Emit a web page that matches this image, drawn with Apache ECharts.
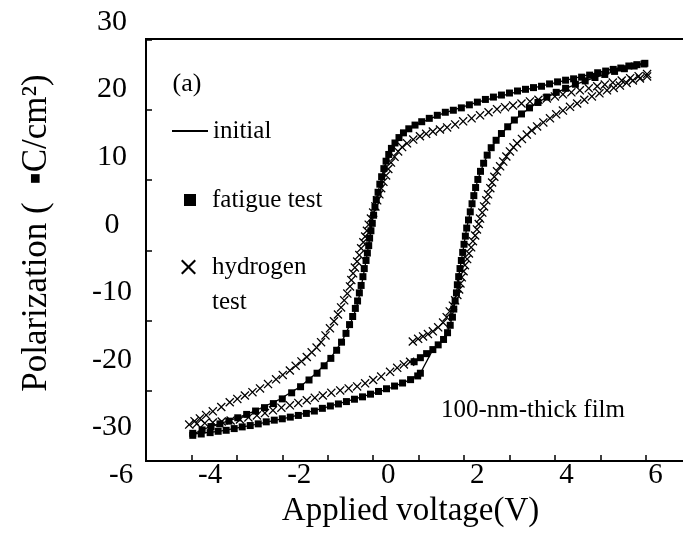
<!DOCTYPE html>
<html><head><meta charset="utf-8">
<script src="https://cdn.jsdelivr.net/npm/echarts@6/dist/echarts.min.js"></script>
<style>html,body{margin:0;padding:0;background:#fff}#c{width:683px;height:533px}</style>
</head><body><div id="c"></div>
<script>
// ---- tick labels ----
const xTickLabels = [-6, -4, -2, 0, 2, 4, 6];
const yTickLabels = [-30, -20, -10, 0, 10, 20, 30];

// ---- fatigue test (squares): [voltage V, polarization uC/cm2] ----
const fatigueUpper = [
  [5.76,23.9],[5.58,23.7],[5.40,23.5],[5.22,23.2],[5.05,23.0],[4.88,22.75],[4.70,22.5],[4.52,22.15],
  [4.34,21.85],[4.16,21.6],[3.98,21.4],[3.80,21.15],[3.62,20.85],[3.44,20.5],[3.26,20.3],[3.08,20.05],
  [2.90,19.8],[2.72,19.5],[2.54,19.2],[2.36,18.9],[2.18,18.55],[2.00,18.15],[1.82,17.75],[1.64,17.3],
  [1.46,16.95],[1.28,16.65],[1.10,16.2],[0.92,15.75],[0.75,15.25],[0.60,14.75],[0.46,14.2],[0.34,13.6],
  [0.24,12.9],[0.15,12.1],[0.07,11.3],[0.01,10.4],[-0.05,9.4],[-0.10,8.3],[-0.15,7.1],[-0.19,6.0],
  [-0.23,4.8],[-0.27,3.7],[-0.30,2.6],[-0.33,1.4],[-0.36,0.2],[-0.39,-0.9],[-0.42,-2.0],[-0.44,-3.1],
  [-0.47,-4.2],[-0.50,-5.3],[-0.54,-6.5],[-0.57,-7.7],[-0.61,-9.0],[-0.65,-10.1],[-0.69,-11.3],[-0.74,-12.4],
  [-0.80,-13.6],[-0.87,-14.8],[-0.95,-16.1],[-1.05,-17.4],[-1.16,-18.6],[-1.29,-19.8],[-1.44,-20.9],[-1.60,-22.0],
  [-1.78,-23.0],[-1.97,-24.0],[-2.17,-24.9],[-2.38,-25.8],[-2.58,-26.5],[-2.78,-27.1],[-2.98,-27.6],[-3.18,-28.1],
  [-3.38,-28.6],[-3.58,-29.1],[-3.78,-29.5],[-3.98,-29.9],[-4.18,-30.4],[-4.39,-30.9]
];
const fatigueLower = [
  [-4.39,-31.2],[-4.20,-31.0],[-4.00,-30.8],[-3.82,-30.6],[-3.64,-30.45],[-3.46,-30.2],[-3.28,-29.95],[-3.10,-29.75],
  [-2.92,-29.5],[-2.74,-29.2],[-2.56,-28.95],[-2.38,-28.75],[-2.20,-28.5],[-2.02,-28.25],[-1.84,-27.95],[-1.66,-27.6],
  [-1.48,-27.2],[-1.30,-26.85],[-1.12,-26.55],[-0.94,-26.2],[-0.76,-25.85],[-0.58,-25.5],[-0.40,-25.1],[-0.22,-24.7],
  [-0.04,-24.3],[0.14,-23.9],[0.32,-23.45],[0.50,-22.95],[0.66,-22.4],[0.72,-22.0]
];
const fatigueRight = [
  [0.58,-20.3],[0.72,-19.7],[0.86,-19.1],[1.00,-18.5],[1.12,-17.8],[1.24,-17.0],[1.33,-16.0],[1.39,-14.9],
  [1.44,-13.7],[1.47,-12.5],[1.50,-11.3],[1.53,-10.1],[1.55,-8.9],[1.58,-7.7],[1.61,-6.5],[1.64,-5.3],
  [1.67,-4.1],[1.70,-2.9],[1.73,-1.7],[1.76,-0.5],[1.80,0.7],[1.84,1.9],[1.88,3.1],[1.92,4.3],
  [1.96,5.5],[2.01,6.7],[2.07,7.9],[2.14,9.1],[2.22,10.3],[2.31,11.4],[2.42,12.5],[2.54,13.5],
  [2.68,14.5],[2.83,15.5],[2.99,16.4],[3.17,17.3],[3.36,18.1],[3.56,18.9],[3.77,19.6],[3.98,20.2],
  [4.20,20.8],[4.42,21.3],[4.64,21.8],[4.86,22.25],[5.08,22.7],[5.30,23.1],[5.52,23.5],[5.74,23.8]
];

// ---- hydrogen test (crosses) ----
const hydrogenUpper = [
  [5.81,22.3],[5.62,22.0],[5.43,21.7],[5.24,21.35],[5.04,21.05],[4.86,20.75],[4.69,20.5],[4.50,20.2],
  [4.30,19.9],[4.11,19.6],[3.92,19.3],[3.74,19.0],[3.56,18.7],[3.37,18.5],[3.18,18.25],[2.99,17.95],
  [2.80,17.65],[2.62,17.4],[2.44,17.1],[2.25,16.65],[2.06,16.2],[1.87,15.75],[1.68,15.3],[1.50,14.85],
  [1.32,14.4],[1.16,14.1],[1.00,13.8],[0.85,13.45],[0.71,13.1],[0.56,12.6],[0.42,12.05],[0.31,11.5],
  [0.22,10.85],[0.14,10.05],[0.06,9.2],[0.00,8.25],[-0.05,7.3],[-0.11,6.35],[-0.16,5.4],[-0.20,4.5],
  [-0.25,3.6],[-0.29,2.7],[-0.34,1.8],[-0.39,0.9],[-0.44,0.0],[-0.48,-0.9],[-0.52,-1.75],[-0.56,-2.6],
  [-0.61,-3.5],[-0.65,-4.5],[-0.70,-5.45],[-0.75,-6.35],[-0.79,-7.2],[-0.83,-8.2],[-0.86,-9.15],[-0.92,-10.2],
  [-0.99,-11.2],[-1.06,-12.25],[-1.13,-13.3],[-1.22,-14.3],[-1.31,-15.35],[-1.41,-16.4],[-1.51,-17.4],[-1.61,-18.2],
  [-1.72,-18.9],[-1.83,-19.6],[-1.95,-20.25],[-2.08,-20.9],[-2.21,-21.6],[-2.37,-22.25],[-2.52,-22.9],[-2.70,-23.6],
  [-2.88,-24.25],[-3.05,-24.8],[-3.22,-25.3],[-3.39,-25.8],[-3.56,-26.3],[-3.75,-27.0],[-3.94,-27.65],[-4.09,-28.2],
  [-4.23,-28.7],[-4.35,-29.1],[-4.47,-29.6]
];
const hydrogenLower = [
  [-4.30,-29.5],[-4.12,-29.4],[-3.94,-29.3],[-3.74,-29.15],[-3.54,-29.0],[-3.33,-28.85],[-3.14,-28.55],[-2.95,-28.25],
  [-2.77,-27.9],[-2.59,-27.5],[-2.40,-27.1],[-2.21,-26.75],[-2.02,-26.4],[-1.83,-26.0],[-1.65,-25.65],[-1.47,-25.3],
  [-1.28,-24.9],[-1.08,-24.55],[-0.89,-24.25],[-0.70,-23.95],[-0.52,-23.5],[-0.34,-23.0],[-0.16,-22.5],[0.04,-21.8],
  [0.20,-21.2],[0.35,-20.7],[0.49,-20.3]
];
const hydrogenRight = [
  [0.55,-17.3],[0.67,-16.9],[0.78,-16.55],[0.89,-16.2],[1.00,-15.8],[1.12,-15.2],[1.23,-14.5],[1.31,-13.7],
  [1.38,-12.85],[1.45,-12.0],[1.50,-11.2],[1.55,-10.4],[1.59,-9.6],[1.62,-8.7],[1.65,-7.8],[1.69,-6.9],
  [1.72,-6.0],[1.77,-5.1],[1.81,-4.25],[1.86,-3.35],[1.90,-2.45],[1.95,-1.6],[1.99,-0.7],[2.03,0.1],
  [2.06,0.9],[2.11,1.8],[2.15,2.7],[2.20,3.6],[2.24,4.5],[2.29,5.4],[2.33,6.25],[2.38,7.1],
  [2.44,7.9],[2.51,8.65],[2.58,9.35],[2.65,10.1],[2.73,10.85],[2.81,11.45],[2.89,12.05],[3.00,12.7],
  [3.11,13.35],[3.22,13.95],[3.34,14.55],[3.48,15.15],[3.63,15.75],[3.77,16.35],[3.92,16.9],[4.08,17.45],
  [4.24,17.95],[4.40,18.5],[4.57,19.0],[4.74,19.45],[4.91,19.9],[5.06,20.25],[5.20,20.6],[5.35,21.0],
  [5.49,21.35],[5.65,21.65],[5.81,21.95]
];

// ---- initial (solid line loop) ----
const initialLoop = [
  [5.8,24.0],[5.0,23.0],[4.0,21.4],[3.0,19.85],[2.0,18.15],[1.2,16.4],[0.6,14.75],[0.25,13.0],
  [0.08,11.2],[-0.05,9.3],[-0.15,7.0],[-0.24,4.6],[-0.31,2.4],[-0.37,0.0],[-0.43,-2.5],[-0.49,-5.0],
  [-0.56,-7.5],[-0.63,-10.0],[-0.72,-12.4],[-0.86,-14.8],[-1.05,-17.4],[-1.30,-19.8],[-1.62,-22.0],[-2.0,-24.1],
  [-2.45,-25.9],[-3.0,-27.6],[-3.55,-29.0],[-4.0,-29.9],[-4.39,-31.0],[-3.8,-30.6],[-3.0,-29.6],[-2.2,-28.5],
  [-1.5,-27.25],[-0.8,-25.9],[0.0,-24.3],[0.5,-22.95],[0.72,-22.0],[1.0,-18.5],[1.24,-17.0],[1.39,-14.9],
  [1.47,-12.5],[1.53,-10.1],[1.58,-7.7],[1.64,-5.3],[1.70,-2.9],[1.76,-0.5],[1.84,1.9],[1.92,4.3],
  [2.01,6.7],[2.14,9.1],[2.31,11.4],[2.54,13.5],[2.83,15.5],[3.17,17.3],[3.56,18.9],[3.98,20.2],
  [4.42,21.3],[4.86,22.25],[5.30,23.1],[5.8,23.9]
];

const SERIF = '"Liberation Serif", "Times New Roman", serif';
const X_MARK = 'path://M0,1L1,0L5,4L9,0L10,1L6,5L10,9L9,10L5,6L1,10L0,9L4,5Z';
const INK = '#000';
const legendText = {fontFamily: SERIF, fontSize: 25, color: INK, lineHeight: 28};

const chart = echarts.init(document.getElementById('c'), null, {renderer: 'canvas'});
chart.setOption({
  animation: false,
  backgroundColor: '#fff',
  grid: [
    {left: 146, top: 39, width: 554.1, height: 422, show: true, borderColor: INK, borderWidth: 2,
     backgroundColor: 'transparent', containLabel: false, outerBoundsMode: 'none'},
    {left: 121.06, top: 22.1, width: 579, height: 438.9, show: false, containLabel: false, outerBoundsMode: 'none'}
  ],
  xAxis: [
    {gridIndex: 0, type: 'value', min: -5.44, max: 7, interval: 1.02,
     axisLine: {show: true, onZero: false, lineStyle: {color: INK, width: 2}},
     axisTick: {show: true, inside: true, length: 6, lineStyle: {color: INK, width: 1.5}},
     axisLabel: {show: false}, splitLine: {show: false}},
    {gridIndex: 1, type: 'value', min: -6, max: 7,
     axisLine: {show: false, onZero: false}, axisTick: {show: false}, splitLine: {show: false},
     axisLabel: {customValues: xTickLabels, color: INK, fontFamily: SERIF, fontSize: 29, margin: 0},
     name: 'Applied voltage(V)', nameLocation: 'middle', nameGap: 32,
     nameTextStyle: {color: INK, fontFamily: SERIF, fontSize: 33}}
  ],
  yAxis: [
    {gridIndex: 0, type: 'value', min: -35, max: 27.5, interval: 10.4,
     axisLine: {show: true, onZero: false, lineStyle: {color: INK, width: 2}},
     axisTick: {show: true, inside: true, length: 6, lineStyle: {color: INK, width: 1.5}},
     axisLabel: {show: false}, splitLine: {show: false}},
    {gridIndex: 1, type: 'value', min: -35, max: 30,
     axisLine: {show: false, onZero: false}, axisTick: {show: false}, splitLine: {show: false},
     axisLabel: {customValues: yTickLabels, color: INK, fontFamily: SERIF, fontSize: 30, margin: 9, align: 'center'},
     name: 'Polarization (  \u25AAC/cm\u00B2)', nameLocation: 'middle', nameRotate: 90, nameGap: 67,
     nameTextStyle: {color: INK, fontFamily: SERIF, fontSize: 35, padding: [0, 0, 0, 17]}}
  ],
  legend: [
    {data: [{name: 'initial', icon: 'rect'}], left: 172, top: 117, orient: 'vertical', padding: 0,
     itemWidth: 36, itemHeight: 2, textStyle: Object.assign({}, legendText)},
    {data: [{name: 'fatigue test'}], left: 184, top: 186, orient: 'vertical', padding: 0,
     itemWidth: 12, itemHeight: 12, textStyle: Object.assign({}, legendText, {padding: [0, 0, 0, 11]})},
    {data: [{name: 'hydrogen test'}], left: 181, top: 214.5, orient: 'vertical', padding: 0,
     itemWidth: 15, itemHeight: 15, formatter: function () { return '\nhydrogen\ntest'; },
     textStyle: Object.assign({}, legendText, {lineHeight: 35, padding: [0, 0, 0, 11]})}
  ],
  graphic: [
    {type: 'text', x: 187, y: 84, silent: true,
     style: {text: '(a)', fill: INK, fontFamily: SERIF, fontSize: 26, align: 'center', verticalAlign: 'middle', textAlign: 'center', textVerticalAlign: 'middle'}},
    {type: 'text', x: 533, y: 410, silent: true,
     style: {text: '100-nm-thick film', fill: INK, fontFamily: SERIF, fontSize: 25, align: 'center', verticalAlign: 'middle', textAlign: 'center', textVerticalAlign: 'middle'}}
  ],
  series: [
    {name: 'initial', type: 'line', xAxisIndex: 0, yAxisIndex: 0, data: initialLoop,
     symbol: 'none', smooth: false, lineStyle: {color: INK, width: 1.3}, itemStyle: {color: INK}, z: 2, silent: true},
    {name: 'fatigue test', type: 'scatter', xAxisIndex: 0, yAxisIndex: 0,
     data: fatigueUpper.concat(fatigueLower, fatigueRight),
     symbol: 'rect', symbolSize: 7, itemStyle: {color: INK, opacity: 1}, z: 3, silent: true},
    {name: 'hydrogen test', type: 'scatter', xAxisIndex: 0, yAxisIndex: 0,
     data: hydrogenUpper.concat(hydrogenLower, hydrogenRight),
     symbol: X_MARK, symbolSize: 9, itemStyle: {color: INK, opacity: 1}, z: 4, silent: true}
  ]
});
</script></body></html>
